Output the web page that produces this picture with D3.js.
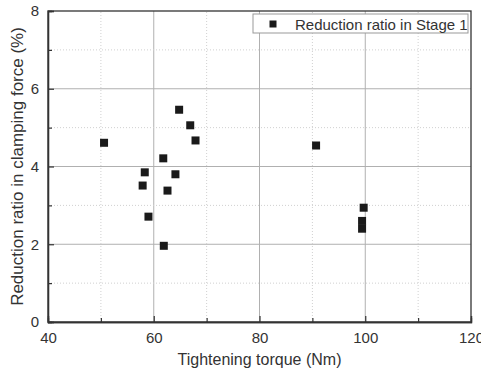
<!DOCTYPE html>
<html><head><meta charset="utf-8">
<script src="https://cdn.jsdelivr.net/npm/d3@7"></script>
<style>body{margin:0;background:#fff}svg{display:block}</style>
</head><body>
<script>
const torque = [50.6, 64.8, 66.9, 67.9, 61.8, 58.3, 64.1, 57.9, 62.6, 59.0, 61.9, 90.7, 99.7, 99.4, 99.4];
const reduction = [4.61, 5.46, 5.06, 4.67, 4.21, 3.85, 3.80, 3.51, 3.38, 2.71, 1.96, 4.54, 2.94, 2.60, 2.40];
const xTicks = [40, 60, 80, 100, 120];
const yTicks = [0, 2, 4, 6, 8];
const xMinor = [50, 70, 90, 110];
const yMinor = [1, 3, 5, 7];
const seriesName = "Reduction ratio in Stage 1";

const W = 481, H = 371;
const m = {l: 48, r: 10, t: 11, b: 49};
const svg = d3.select("body").append("svg").attr("width", W).attr("height", H);
const x = d3.scaleLinear().domain([40, 120]).range([m.l, W - m.r]);
const y = d3.scaleLinear().domain([0, 8]).range([H - m.b, m.t]);
const font = "Liberation Sans, Arial, sans-serif";

// grid
const g = svg.append("g");
g.selectAll(".gx").data(xTicks.slice(1, -1)).join("line")
  .attr("x1", d => x(d)).attr("x2", d => x(d)).attr("y1", y(0)).attr("y2", y(8))
  .attr("stroke", "#b0b0b0").attr("stroke-width", 1);
g.selectAll(".gy").data(yTicks.slice(1, -1)).join("line")
  .attr("y1", d => y(d)).attr("y2", d => y(d)).attr("x1", x(40)).attr("x2", x(120))
  .attr("stroke", "#b0b0b0").attr("stroke-width", 1);
g.selectAll(".mx").data(xMinor).join("line")
  .attr("x1", d => x(d)).attr("x2", d => x(d)).attr("y1", y(0)).attr("y2", y(8))
  .attr("stroke", "#d0d0d0").attr("stroke-width", 1).attr("stroke-dasharray", "1,2");
g.selectAll(".my").data(yMinor).join("line")
  .attr("y1", d => y(d)).attr("y2", d => y(d)).attr("x1", x(40)).attr("x2", x(120))
  .attr("stroke", "#d0d0d0").attr("stroke-width", 1).attr("stroke-dasharray", "1,2");

// frame
svg.append("rect").attr("x", x(40)).attr("y", y(8)).attr("width", x(120) - x(40)).attr("height", y(0) - y(8))
  .attr("fill", "none").attr("stroke", "#333").attr("stroke-width", 1.3);

// axes
const xAxis = svg.append("g").attr("transform", `translate(0,${y(0)})`)
  .call(d3.axisBottom(x).tickValues(xTicks).tickSize(-6).tickPadding(10).tickFormat(d3.format("d")));
const xAxisMinor = svg.append("g").attr("transform", `translate(0,${y(0)})`)
  .call(d3.axisBottom(x).tickValues(xMinor).tickSize(-4).tickFormat(""));
const yAxis = svg.append("g").attr("transform", `translate(${x(40)},0)`)
  .call(d3.axisLeft(y).tickValues(yTicks).tickSize(-6).tickPadding(9).tickFormat(d3.format("d")));
const yAxisMinor = svg.append("g").attr("transform", `translate(${x(40)},0)`)
  .call(d3.axisLeft(y).tickValues(yMinor).tickSize(-4).tickFormat(""));
[xAxis, xAxisMinor, yAxis, yAxisMinor].forEach(a => {
  a.select(".domain").attr("stroke", "#333").attr("stroke-width", 1.3);
  a.selectAll(".tick line").attr("stroke", "#333").attr("stroke-width", 1.2);
  a.selectAll("text").attr("font-family", font).attr("font-size", 15).attr("fill", "#333");
});

// titles
svg.append("text").attr("x", (x(40) + x(120)) / 2).attr("y", 365).attr("text-anchor", "middle")
  .attr("font-family", font).attr("font-size", 16).attr("fill", "#333").text("Tightening torque (Nm)");
svg.append("text").attr("transform", `translate(23,${(y(0) + y(8)) / 2}) rotate(-90)`).attr("text-anchor", "middle")
  .attr("font-family", font).attr("font-size", 17).attr("fill", "#333").text("Reduction ratio in clamping force (%)");

// points
const s = 8;
svg.append("g").selectAll("rect").data(torque.map((t, i) => [t, reduction[i]])).join("rect")
  .attr("x", d => x(d[0]) - s / 2).attr("y", d => y(d[1]) - s / 2).attr("width", s).attr("height", s)
  .attr("fill", "#1a1a1a");

// legend
const lg = svg.append("g");
lg.append("rect").attr("x", 253).attr("y", 14).attr("width", 215).attr("height", 19)
  .attr("fill", "#fff").attr("stroke", "#999").attr("stroke-width", 1);
lg.append("rect").attr("x", 273 - 3.5).attr("y", 24 - 3.5).attr("width", 7).attr("height", 7).attr("fill", "#1a1a1a");
lg.append("text").attr("x", 295).attr("y", 29.5).attr("font-family", font).attr("font-size", 15).attr("fill", "#333").text(seriesName);
</script>
</body></html>
